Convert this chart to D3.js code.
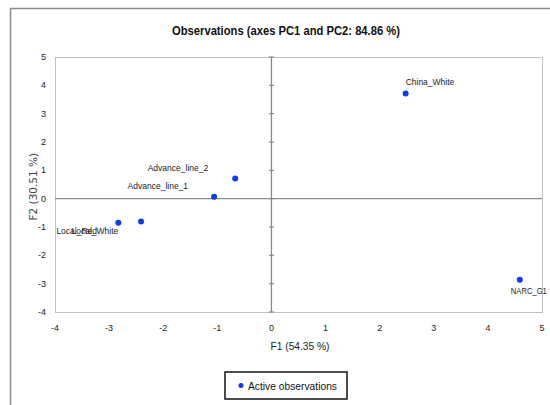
<!DOCTYPE html>
<html>
<head>
<meta charset="utf-8">
<script src="https://cdn.jsdelivr.net/npm/d3@7"></script>
<style>
  body { margin: 0; background: #fff; }
  text { font-family: "Liberation Sans", sans-serif; }
</style>
</head>
<body>
<svg id="chart" width="550" height="405"></svg>
<script>
// observations (PCA scores)
const names = ["China_White", "NARC_G1", "Advance_line_2", "Advance_line_1", "Local_Red", "Local_White"];
const f1 = [2.48, 4.59, -0.67, -1.06, -2.41, -2.83];
const f2 = [3.71, -2.86, 0.71, 0.07, -0.81, -0.85];
const xTicks = [-4, -3, -2, -1, 0, 1, 2, 3, 4, 5];
const yTicks = [-4, -3, -2, -1, 0, 1, 2, 3, 4, 5];

// where each label sits relative to its dot
const labelPos = {
    "China_White":    {dx: 0,   dy: -9,  anchor: "start"},
    "NARC_G1":        {dx: -9,  dy: 14,  anchor: "start"},
    "Advance_line_2": {dx: -27, dy: -8,  anchor: "end"},
    "Advance_line_1": {dx: -26, dy: -8,  anchor: "end"},
    "Local_Red":      {dx: -44, dy: 12,  anchor: "end"},
    "Local_White":    {dx: 0,   dy: 11,  anchor: "end"}
};

const data = names.map((n, i) => ({name: n, x: f1[i], y: f2[i]}));

const svg = d3.select("#chart");
const plotLeft = 55, plotRight = 542, plotTop = 57, plotBottom = 312;

let xScale = d3.scaleLinear().domain([-4, 5]).range([plotLeft, plotRight]);
let yScale = d3.scaleLinear().domain([-4, 5]).range([plotBottom, plotTop]);

// outer frame
svg.append("path")
    .attr("d", "M10.5,410 V8.5 H560")
    .attr("fill", "none")
    .attr("stroke", "#8c8c8c")
    .attr("stroke-width", 1.5);

svg.append("text")
    .attr("x", 286).attr("y", 35)
    .attr("text-anchor", "middle")
    .attr("font-size", 13)
    .attr("font-weight", "bold")
    .attr("fill", "#111")
    .attr("textLength", 228)
    .attr("lengthAdjust", "spacingAndGlyphs")
    .text("Observations (axes PC1 and PC2: 84.86 %)");

// plot border
svg.append("rect")
    .attr("x", plotLeft + 0.5).attr("y", plotTop + 0.5)
    .attr("width", plotRight - plotLeft).attr("height", plotBottom - plotTop)
    .attr("fill", "none")
    .attr("stroke", "#c0c0c0");

// zero lines
svg.append("line")
    .attr("x1", plotLeft).attr("x2", plotRight)
    .attr("y1", yScale(0)).attr("y2", yScale(0))
    .attr("stroke", "#8a8a8a").attr("stroke-width", 1.3);
svg.append("line")
    .attr("x1", xScale(0)).attr("x2", xScale(0))
    .attr("y1", plotTop).attr("y2", plotBottom)
    .attr("stroke", "#8a8a8a").attr("stroke-width", 1.3);

// small ticks on the vertical zero line
svg.selectAll(".vtick")
    .data(yTicks)
    .enter().append("line")
    .attr("class", "vtick")
    .attr("x1", xScale(0) - 2.5).attr("x2", xScale(0) + 2.5)
    .attr("y1", d => yScale(d)).attr("y2", d => yScale(d))
    .attr("stroke", "#8a8a8a").attr("stroke-width", 1.2);

// tick labels
svg.selectAll(".xlab")
    .data(xTicks)
    .enter().append("text")
    .attr("class", "xlab")
    .attr("x", d => xScale(d))
    .attr("y", 331)
    .attr("text-anchor", "middle")
    .attr("font-size", 9)
    .attr("fill", "#222")
    .text(d => d);

svg.selectAll(".ylab")
    .data(yTicks)
    .enter().append("text")
    .attr("class", "ylab")
    .attr("x", 46)
    .attr("y", d => yScale(d) + 3)
    .attr("text-anchor", "end")
    .attr("font-size", 9)
    .attr("fill", "#222")
    .text(d => d);

// axis titles
svg.append("text")
    .attr("x", 300).attr("y", 350)
    .attr("text-anchor", "middle")
    .attr("font-size", 11.5)
    .attr("fill", "#222")
    .attr("textLength", 59)
    .attr("lengthAdjust", "spacingAndGlyphs")
    .text("F1 (54.35 %)");

svg.append("text")
    .attr("transform", "translate(37," + (yScale(0) - 12) + ") rotate(-90)")
    .attr("text-anchor", "middle")
    .style("font-family", "'DejaVu Sans', sans-serif")
    .attr("font-size", 10.5)
    .attr("fill", "#444")
    .text("F2 (30.51 %)");

// points
svg.selectAll(".dot")
    .data(data)
    .enter().append("circle")
    .attr("class", "dot")
    .attr("cx", d => xScale(d.x))
    .attr("cy", d => yScale(d.y))
    .attr("r", 3)
    .attr("fill", "#0a3cf0");

svg.selectAll(".plab")
    .data(data)
    .enter().append("text")
    .attr("class", "plab")
    .attr("x", d => xScale(d.x) + labelPos[d.name].dx)
    .attr("y", d => yScale(d.y) + labelPos[d.name].dy)
    .attr("text-anchor", d => labelPos[d.name].anchor)
    .attr("font-size", 8.5)
    .attr("fill", "#222")
    .each(function(d) {
        // the right-hand label is a bit tighter in the original
        if (d.name === "NARC_G1") {
            d3.select(this).attr("textLength", 36).attr("lengthAdjust", "spacingAndGlyphs");
        }
    })
    .text(d => d.name);

// legend
const legend = svg.append("g").attr("transform", "translate(225,372)");
legend.append("rect")
    .attr("width", 122).attr("height", 27)
    .attr("fill", "#fff")
    .attr("stroke", "#111").attr("stroke-width", 1.5);
legend.append("circle")
    .attr("cx", 16).attr("cy", 13.5).attr("r", 2.5)
    .attr("fill", "#0a3cf0");
legend.append("text")
    .attr("x", 23).attr("y", 17.5)
    .attr("font-size", 11.5)
    .attr("fill", "#111")
    .attr("textLength", 89)
    .attr("lengthAdjust", "spacingAndGlyphs")
    .text("Active observations");
</script>
</body>
</html>
